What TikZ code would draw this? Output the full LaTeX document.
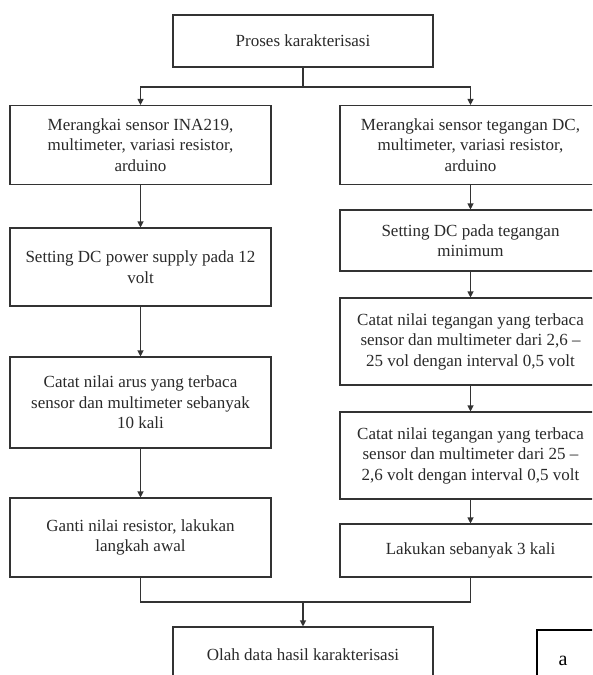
\documentclass[tikz,border=0pt]{standalone}
\usepackage{fontspec}
\setmainfont{Liberation Serif}
\usetikzlibrary{arrows.meta}
\definecolor{ink}{HTML}{2A2A2A}
\definecolor{linec}{HTML}{333333}
\tikzset{
  box/.style={draw=linec, line width=1.1pt, rectangle, align=center, inner sep=0pt,
    text=ink, font=\fontsize{17}{20.5}\selectfont},
  arr/.style={draw=linec, line width=1.1pt, -{Triangle[length=6pt,width=6pt]}},
  ln/.style={draw=linec, line width=1.1pt},
}
\begin{document}
\begin{tikzpicture}[x=1pt,y=-1pt]
\useasboundingbox (0,0) rectangle (592,675);
\clip (0,0) rectangle (592,675);
\fill[white] (0,0) rectangle (592,675);
% top
\node[box, minimum width=260pt, minimum height=52pt] (top) at (303,41) {Proses karakterisasi};
% left column
\node[box, minimum width=261pt, minimum height=79pt] (L1) at (140.5,145) {Merangkai sensor INA219,\\ multimeter, variasi resistor,\\ arduino};
\node[box, minimum width=261pt, minimum height=78pt] (L2) at (140.5,267) {Setting DC power supply pada 12\\ volt};
\node[box, minimum width=261pt, minimum height=91pt] (L3) at (140.5,402.5) {Catat nilai arus yang terbaca\\ sensor dan multimeter sebanyak\\ 10 kali};
\node[box, minimum width=261pt, minimum height=79pt] (L4) at (140.5,537.5) {Ganti nilai resistor, lakukan\\ langkah awal};
% right column
\node[box, minimum width=261pt, minimum height=79pt] (R1) at (470.5,145) {Merangkai sensor tegangan DC,\\ multimeter, variasi resistor,\\ arduino};
\node[box, minimum width=261pt, minimum height=61pt] (R2) at (470.5,240.5) {Setting DC pada tegangan\\ minimum};
\node[box, minimum width=261pt, minimum height=87pt] (R3) at (470.5,341.5) {Catat nilai tegangan yang terbaca\\ sensor dan multimeter dari 2,6 --\\ 25 vol dengan interval 0,5 volt};
\node[box, minimum width=261pt, minimum height=87pt] (R4) at (470.5,455.5) {Catat nilai tegangan yang terbaca\\ sensor dan multimeter dari 25 --\\ 2,6 volt dengan interval 0,5 volt};
\node[box, minimum width=261pt, minimum height=53pt] (R5) at (470.5,550.5) {Lakukan sebanyak 3 kali};
% bottom
\node[box, minimum width=260pt, minimum height=56pt] (bot) at (303,655) {Olah data hasil karakterisasi};
% label a
\node[box, minimum width=70pt, minimum height=60pt, text=black, draw=black] (abox) at (572,660) {};
\node[text=black, font=\fontsize{20}{24}\selectfont, anchor=base] (alab) at (563,665) {a};
% connectors
\coordinate (split) at (303,87);
\coordinate (join) at (303,602);
\draw[ln] (top.south) -- (split);
\draw[arr] (split) -| (L1.north);
\draw[arr] (split) -| (R1.north);
\draw[arr] (L1) -- (L2);
\draw[arr] (L2) -- (L3);
\draw[arr] (L3) -- (L4);
\draw[arr] (R1) -- (R2);
\draw[arr] (R2) -- (R3);
\draw[arr] (R3) -- (R4);
\draw[arr] (R4) -- (R5);
\draw[ln] (L4.south) |- (join);
\draw[ln] (R5.south) |- (join);
\draw[arr] (join) -- (bot.north);
\end{tikzpicture}
\end{document}
